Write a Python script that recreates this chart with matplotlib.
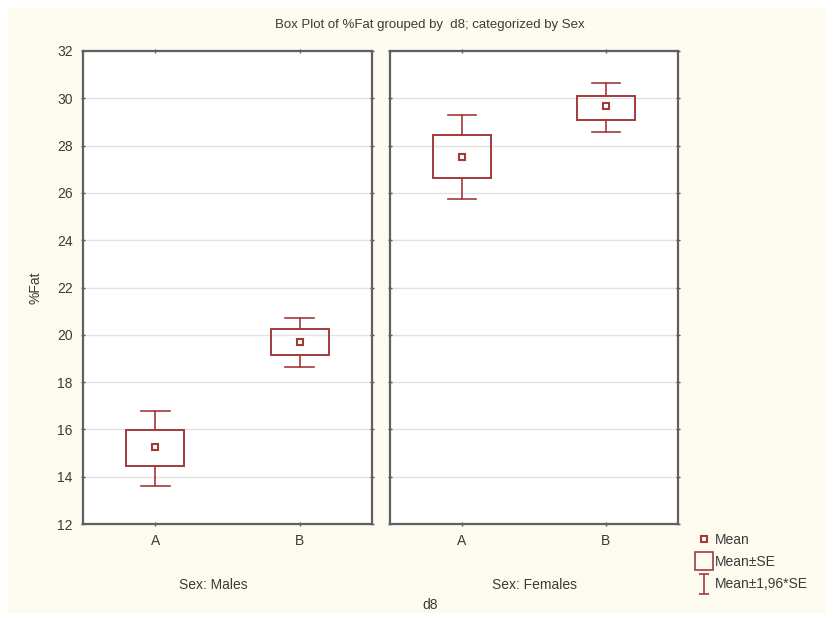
import matplotlib
matplotlib.use("Agg")
import matplotlib.pyplot as plt
from matplotlib.patches import Rectangle
from matplotlib.lines import Line2D
from matplotlib.path import Path

# data
groups = ["Sex: Males", "Sex: Females"]
categories = ["A", "B"]
means = [[15.26, 19.70], [27.52, 29.67]]
se_lo = [[14.45, 19.15], [26.63, 29.08]]
se_hi = [[15.97, 20.25], [28.45, 30.10]]
ci_lo = [[13.61, 18.64], [25.74, 28.58]]
ci_hi = [[16.78, 20.71], [29.29, 30.65]]
yticks = [12, 14, 16, 18, 20, 22, 24, 26, 28, 30, 32]

red = "#a33a3a"
txt = "#3a3a3a"
plt.rcParams['font.family'] = ['Liberation Sans', 'DejaVu Sans']

fig = plt.figure(figsize=(8.34, 6.21), dpi=100, facecolor="white")
fig.patches.append(Rectangle((8/834, 8/621), 818/834, 605/621, transform=fig.transFigure,
                             facecolor="#fdfbf0", edgecolor="none", zorder=-5))

panels = [[83/834, 1-524/621, 289/834, 473/621],
          [390/834, 1-524/621, 288/834, 473/621]]
label_x = [0.45, 0.5]

for g, rect in enumerate(panels):
    ax = fig.add_axes(rect)
    ax.set_facecolor("white")
    x = list(range(len(categories)))
    for i in x:
        # Mean +/- 1.96*SE whiskers
        ax.plot([i, i], [ci_lo[g][i], se_lo[g][i]], color=red, lw=1.2)
        ax.plot([i, i], [se_hi[g][i], ci_hi[g][i]], color=red, lw=1.2)
        ax.plot([i-0.1, i+0.1], [ci_lo[g][i]]*2, color=red, lw=1.2)
        ax.plot([i-0.1, i+0.1], [ci_hi[g][i]]*2, color=red, lw=1.2)
        # Mean +/- SE box
        ax.add_patch(Rectangle((i-0.2, se_lo[g][i]), 0.4, se_hi[g][i]-se_lo[g][i],
                               fill=False, edgecolor=red, lw=1.4, zorder=3))
    ax.plot(x, means[g], linestyle="none", marker="s", ms=5, mfc="none",
            mec=red, mew=1.5, zorder=4)
    ax.set_xlim(-0.5, 1.5)
    ax.set_ylim(12, 32)
    ax.set_yticks(yticks)
    ax.set_xticks(x)
    ax.set_xticklabels(categories, color=txt, fontsize=10)
    ax.grid(axis="y", color="#e2e2e2", lw=1)
    ax.set_axisbelow(True)
    ax.tick_params(axis="both", length=3, width=1, color="#555555", direction="inout",
                   top=True, right=True, labelsize=10, labelcolor=txt, pad=6)
    if g == 0:
        ax.set_ylabel("%Fat", color=txt, fontsize=10, labelpad=10)
    else:
        ax.set_yticklabels([])
    for s in ax.spines.values():
        s.set_color("#606060")
        s.set_linewidth(1.6)
    ax.set_xlabel(groups[g], color=txt, fontsize=10)
    ax.xaxis.set_label_coords(label_x[g], -0.115)

fig.text(430/834, 1-25/621, "Box Plot of %Fat grouped by  d8; categorized by Sex",
         ha="center", va="center", fontsize=9.5, color=txt)
fig.text(430/834, 1-605/621, "d8", ha="center", va="center", fontsize=10, color=txt)

ibar = Path([(-0.5, 1), (0.5, 1), (0, 1), (0, -1), (-0.5, -1), (0.5, -1)],
            [Path.MOVETO, Path.LINETO, Path.MOVETO, Path.LINETO, Path.MOVETO, Path.LINETO])
handles = [Line2D([], [], linestyle="none", marker="s", ms=5, mfc="none", mec=red, mew=1.5),
           Line2D([], [], linestyle="none", marker="s", ms=13, mfc="none", mec=red, mew=1.2),
           Line2D([], [], linestyle="none", marker=ibar, ms=15, mfc="none", mec=red, mew=1.2)]
fig.legend(handles, ["Mean", "Mean±SE", "Mean±1,96*SE"], loc="upper left",
           bbox_to_anchor=(688/834, 1-523/621), frameon=False, fontsize=10,
           labelcolor=txt, handlelength=0.9, handletextpad=0.3, labelspacing=0.6,
           borderpad=0.2)

fig.savefig("out.png", dpi=100, facecolor=fig.get_facecolor())
